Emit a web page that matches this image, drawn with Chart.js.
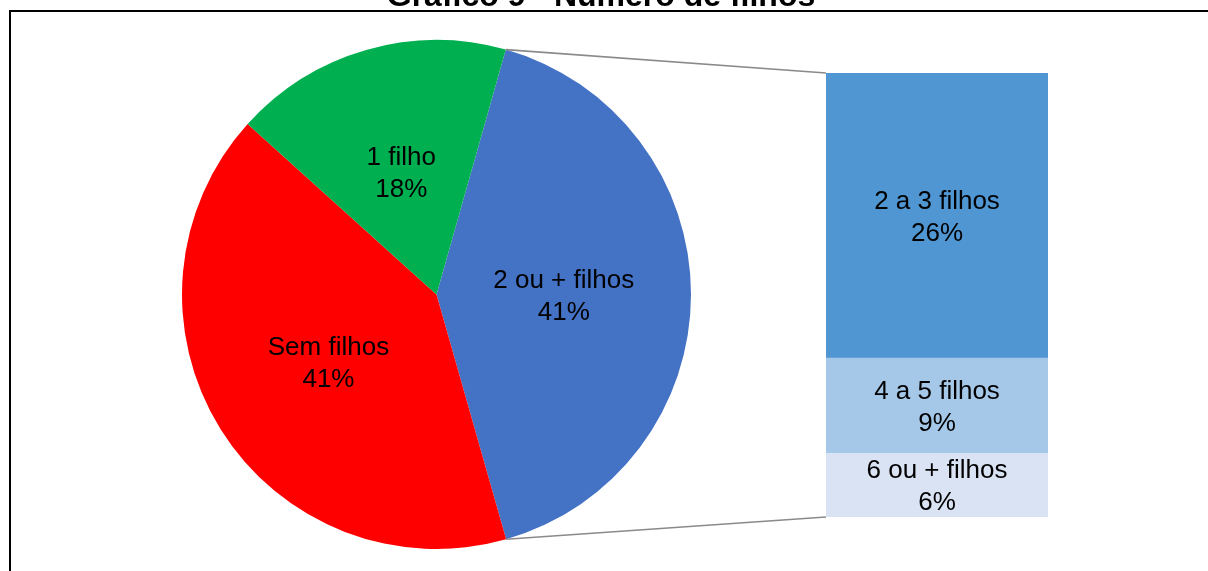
<!DOCTYPE html>
<html lang="pt">
<head>
<meta charset="utf-8">
<title>Gráfico 9 - Número de filhos</title>
<script src="https://cdn.jsdelivr.net/npm/chart.js@4/dist/chart.umd.min.js"></script>
<style>
    html, body { margin: 0; padding: 0; background: #fff; }
    #wrap { position: relative; width: 1208px; height: 571px; overflow: hidden; }
    #wrap canvas { position: absolute; left: 0; top: 0; }
</style>
</head>
<body>
<div id="wrap">
    <canvas id="pieChart" width="1208" height="571"></canvas>
    <canvas id="barChart" width="1208" height="571"></canvas>
</div>
<script>
// Dados do gráfico
const chartTitle = 'Gráfico 9 - Número de filhos';
const pieLabels = ['2 ou + filhos', 'Sem filhos', '1 filho'];
const pieValues = [41.2, 41.1, 17.7];
const pieColors = ['#4472C4', '#FF0000', '#00B050'];

// Detalhamento de "2 ou + filhos" (de baixo para cima)
const barLabels = ['6 ou + filhos', '4 a 5 filhos', '2 a 3 filhos'];
const barValues = [5.9, 8.8, 26.4];
const barColors = ['#DAE3F3', '#A6C8E8', '#5096D2'];

const labelFont = '26px "Liberation Sans", Arial, sans-serif';
const lineGap = 32;

function drawLabel(ctx, x, y, name, value) {
    ctx.save();
    ctx.fillStyle = '#000';
    ctx.font = labelFont;
    ctx.textAlign = 'center';
    ctx.textBaseline = 'middle';
    ctx.fillText(name, x, y - lineGap / 2 + 2);
    ctx.fillText(Math.round(value) + '%', x, y + lineGap / 2 + 2);
    ctx.restore();
}

// Rótulos das fatias + título + moldura
const pieLabelPlugin = {
    id: 'pieLabels',
    afterDatasetsDraw(chart) {
        const ctx = chart.ctx;
        chart.getDatasetMeta(0).data.forEach((arc, i) => {
            const mid = (arc.startAngle + arc.endAngle) / 2;
            const r = arc.outerRadius * 0.5;
            drawLabel(ctx, arc.x + Math.cos(mid) * r, arc.y + Math.sin(mid) * r, pieLabels[i], pieValues[i]);
        });

        ctx.save();
        ctx.fillStyle = '#000';
        ctx.font = 'bold 32px "Liberation Sans", Arial, sans-serif';
        ctx.textAlign = 'center';
        ctx.textBaseline = 'alphabetic';
        ctx.fillText(chartTitle, 601, 5.5);

        ctx.strokeStyle = '#000';
        ctx.lineWidth = 2;
        ctx.beginPath();
        ctx.moveTo(10, 571);
        ctx.lineTo(10, 11);
        ctx.lineTo(1208, 11);
        ctx.stroke();
        ctx.restore();
    }
};

const pieChart = new Chart(document.getElementById('pieChart'), {
    type: 'pie',
    data: {
        labels: pieLabels,
        datasets: [{
            data: pieValues,
            backgroundColor: pieColors,
            borderWidth: 0
        }]
    },
    options: {
        responsive: false,
        animation: false,
        rotation: 15.8,
        layout: { padding: { left: 182, right: 517, top: 40, bottom: 22 } },
        plugins: {
            legend: { display: false },
            tooltip: { enabled: false }
        }
    },
    plugins: [pieLabelPlugin]
});

// Rótulos da barra + linhas de ligação com a fatia
const barLabelPlugin = {
    id: 'barLabels',
    afterDatasetsDraw(chart) {
        const ctx = chart.ctx;
        const bars = chart.data.datasets.map((d, i) => chart.getDatasetMeta(i).data[0]);
        bars.forEach((bar, i) => {
            drawLabel(ctx, bar.x, (bar.y + bar.base) / 2, barLabels[i], barValues[i]);
        });

        const arc = pieChart.getDatasetMeta(0).data[0];
        const top = bars[bars.length - 1];
        const bottom = bars[0];
        const left = top.x - top.width / 2;

        ctx.save();
        ctx.strokeStyle = '#8A8A8A';
        ctx.lineWidth = 1.6;
        ctx.beginPath();
        ctx.moveTo(arc.x + Math.cos(arc.startAngle) * arc.outerRadius, arc.y + Math.sin(arc.startAngle) * arc.outerRadius);
        ctx.lineTo(left, top.y);
        ctx.moveTo(arc.x + Math.cos(arc.endAngle) * arc.outerRadius, arc.y + Math.sin(arc.endAngle) * arc.outerRadius);
        ctx.lineTo(left, bottom.base);
        ctx.stroke();
        ctx.restore();
    }
};

const barTotal = barValues.reduce((a, b) => a + b, 0);

new Chart(document.getElementById('barChart'), {
    type: 'bar',
    data: {
        labels: [pieLabels[0]],
        datasets: barLabels.map((label, i) => ({
            label: label,
            data: [barValues[i]],
            backgroundColor: barColors[i],
            borderWidth: 0,
            barPercentage: 1,
            categoryPercentage: 1
        }))
    },
    options: {
        responsive: false,
        animation: false,
        layout: { padding: { left: 826, right: 160, top: 73, bottom: 54 } },
        scales: {
            x: { display: false, stacked: true },
            y: { display: false, stacked: true, min: 0, max: barTotal }
        },
        plugins: {
            legend: { display: false },
            tooltip: { enabled: false }
        }
    },
    plugins: [barLabelPlugin]
});
</script>
</body>
</html>
